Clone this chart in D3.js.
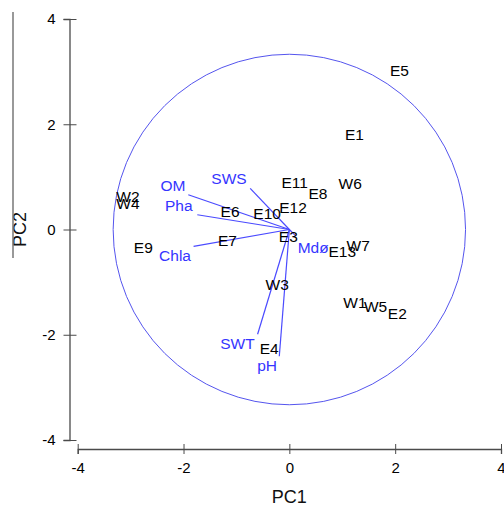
<!DOCTYPE html>
<html>
<head>
<meta charset="utf-8">
<script src="https://cdn.jsdelivr.net/npm/d3@7"></script>
<style>
  body { margin: 0; background: #fff; }
  text { font-family: "Liberation Sans", Arial, sans-serif; }
</style>
</head>
<body>
<svg id="chart" width="504" height="506"></svg>
<script>
// Site scores (PC1, PC2)
const sites = ["E1", "E2", "E3", "E4", "E5", "E6", "E7", "E8", "E9", "E10", "E11", "E12", "E13",
  "W1", "W2", "W3", "W4", "W5", "W6", "W7"];
const siteX = [1.23, 2.04, -0.02, -0.38, 2.08, -1.12, -1.17, 0.54, -2.76, -0.42, 0.10, 0.07, 1.00,
  1.24, -3.05, -0.23, -3.05, 1.63, 1.15, 1.30];
const siteY = [1.80, -1.59, -0.14, -2.26, 3.03, 0.35, -0.20, 0.69, -0.35, 0.31, 0.90, 0.41, -0.41,
  -1.39, 0.62, -1.05, 0.50, -1.47, 0.87, -0.31];

// Environmental variable loadings (scaled)
const vars = ["OM", "Pha", "Chla", "SWS", "SWT", "pH", "Mdø"];
const varX = [-1.91, -1.74, -1.81, -0.74, -0.60, -0.19, 0.12];
const varY = [0.66, 0.28, -0.32, 0.78, -1.99, -2.41, -0.12];
// where each variable name sits
const varLabelX = [-2.20, -2.09, -2.16, -1.14, -0.98, -0.42, 0.45];
const varLabelY = [0.84, 0.45, -0.50, 0.96, -2.17, -2.59, -0.35];

const xTicks = [-4, -2, 0, 2, 4];
const yTicks = [-4, -2, 0, 2, 4];
const circleRadius = 3.33;

const svg = d3.select("#chart");

const x = d3.scaleLinear().domain([-4, 4]).range([77.7, 501]);
const y = d3.scaleLinear().domain([-4, 4]).range([440, 19]);

const axisColor = "#4a4a4a";

// x axis, offset below the plot
const xAxis = svg.append("g")
  .attr("transform", "translate(0,449)")
  .call(d3.axisBottom(x).tickValues(xTicks).tickSizeOuter(0).tickSize(5));
xAxis.select(".domain").attr("stroke", axisColor).attr("stroke-width", 1.3);
xAxis.selectAll(".tick line").attr("y1", -5).attr("y2", 5).attr("stroke", axisColor);
xAxis.selectAll(".tick text").attr("y", 13).attr("font-size", 15).attr("fill", "#000")
  .text(d => d < 0 ? "-" + Math.abs(d) : d);

// y axis, offset left of the plot
const yAxis = svg.append("g")
  .attr("transform", "translate(69.5,0)")
  .call(d3.axisLeft(y).tickValues(yTicks).tickSizeOuter(0).tickSize(6));
yAxis.select(".domain").attr("stroke", axisColor).attr("stroke-width", 1.3);
yAxis.selectAll(".tick line").attr("x1", -6).attr("x2", 7).attr("stroke", axisColor);
yAxis.selectAll(".tick text").attr("x", -14).attr("font-size", 15).attr("fill", "#000")
  .text(d => d < 0 ? "-" + Math.abs(d) : d);

svg.append("text")
  .attr("x", x(0)).attr("y", 497)
  .attr("text-anchor", "middle")
  .attr("dominant-baseline", "central")
  .attr("font-size", 18).attr("fill", "#111")
  .text("PC1");

svg.append("text")
  .attr("transform", `translate(20,${y(0)}) rotate(-90)`)
  .attr("text-anchor", "middle")
  .attr("dominant-baseline", "central")
  .attr("font-size", 18).attr("fill", "#111")
  .text("PC2");

// stray rule left of the y label
svg.append("line")
  .attr("x1", 13).attr("x2", 13).attr("y1", 12).attr("y2", 258)
  .attr("stroke", "#777").attr("stroke-width", 1.5);

// correlation circle
svg.append("ellipse")
  .attr("cx", x(0)).attr("cy", y(0))
  .attr("rx", x(circleRadius) - x(0))
  .attr("ry", y(0) - y(circleRadius))
  .attr("fill", "none")
  .attr("stroke", "#5555ee")
  .attr("stroke-width", 1);

// variable arrows
const varData = vars.map((v, i) => ({ name: v, x: varX[i], y: varY[i], lx: varLabelX[i], ly: varLabelY[i] }));

svg.append("g").selectAll("line")
  .data(varData)
  .join("line")
  .attr("x1", x(0)).attr("y1", y(0))
  .attr("x2", d => x(d.x)).attr("y2", d => y(d.y))
  .attr("stroke", "#4a4aff")
  .attr("stroke-width", 1.2);

svg.append("g").selectAll("text")
  .data(varData)
  .join("text")
  .attr("x", d => x(d.lx)).attr("y", d => y(d.ly))
  .attr("text-anchor", "middle")
  .attr("dominant-baseline", "central")
  .attr("font-size", 15.5)
  .attr("fill", "#3535ff")
  .text(d => d.name);

// site labels
const siteData = sites.map((s, i) => ({ name: s, x: siteX[i], y: siteY[i] }));

svg.append("g").selectAll("text")
  .data(siteData)
  .join("text")
  .attr("x", d => x(d.x)).attr("y", d => y(d.y))
  .attr("text-anchor", "middle")
  .attr("dominant-baseline", "central")
  .attr("font-size", 15.5)
  .attr("fill", "#000")
  .text(d => d.name);
</script>
</body>
</html>
